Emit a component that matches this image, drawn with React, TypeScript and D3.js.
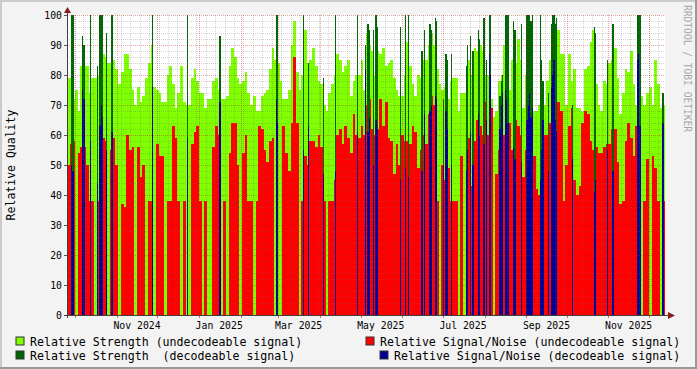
import React from "react";
import * as d3 from "d3";

const START = new Date(2024, 8, 25);
const END = new Date(2025, 11, 13);
const SLOT_DAYS = 2;

// Relative strength, undecodeable signal (one value per 2-day slot)
const strengthUndecodeable = [
  79, 79, 72, 75, 68, 83, 83, 83, 74, 79, 79, 80, 84, 87, 86, 84, 84, 85, 82, 77, 81, 87, 87, 82, 75, 70, 76, 71, 73, 79, 84, 90, 76, 75, 74, 71, 71,
  80, 83, 77, 69, 74, 83, 71, 70, 70, 79, 82, 78, 74, 74, 69, 72, 72, 78, 79, 75, 72, 72, 73, 83, 89, 86, 79, 77, 78, 81, 74, 70, 73, 68, 68, 73, 74,
  75, 82, 89, 85, 84, 78, 72, 72, 75, 90, 98, 81, 75, 80, 95, 84, 85, 89, 83, 78, 77, 70, 68, 74, 77, 80, 87, 85, 81, 83, 85, 73, 78, 80, 80, 85, 75,
  94, 90, 88, 80, 88, 87, 89, 83, 84, 85, 79, 75, 73, 73, 80, 91, 83, 77, 73, 80, 79, 85, 85, 90, 94, 90, 82, 77, 75, 76, 72, 78, 79, 79, 68, 74, 74,
  83, 85, 80, 89, 88, 90, 88, 80, 80, 72, 66, 68, 78, 80, 90, 97, 75, 85, 84, 92, 85, 69, 80, 85, 90, 68, 68, 70, 75, 70, 78, 85, 90, 92, 95, 87, 87,
  70, 87, 78, 82, 69, 69, 68, 82, 83, 91, 95, 77, 70, 68, 78, 77, 84, 85, 89, 79, 67, 74, 82, 81, 88, 77, 70, 80, 73, 70, 74, 76, 70, 85, 77, 69, 70,
];

// Relative signal/noise, undecodeable signal (one value per 2-day slot)
const snrUndecodeable = [
  50, 57, 58, 0, 54, 56, 56, 50, 38, 38, 0, 38, 38, 59, 58, 0, 55, 59, 50, 0, 37, 36, 60, 55, 56, 0, 56, 46, 50, 0, 38, 38, 0, 57, 53, 53, 0,
  38, 38, 63, 59, 38, 0, 38, 0, 0, 57, 61, 63, 38, 0, 38, 0, 0, 56, 63, 60, 0, 38, 0, 54, 64, 64, 50, 0, 54, 60, 38, 38, 0, 38, 63, 62, 55,
  51, 58, 59, 0, 0, 0, 63, 54, 48, 64, 86, 64, 0, 38, 53, 50, 58, 58, 56, 60, 56, 38, 0, 38, 38, 45, 60, 62, 57, 63, 59, 54, 67, 60, 59, 63, 60,
  70, 72, 62, 60, 62, 72, 63, 71, 59, 58, 47, 57, 50, 60, 58, 58, 57, 63, 61, 49, 55, 60, 57, 67, 73, 70, 38, 0, 50, 45, 49, 38, 38, 38, 0, 53, 0,
  60, 59, 43, 58, 65, 63, 60, 71, 60, 69, 0, 47, 55, 58, 60, 64, 64, 55, 65, 63, 60, 46, 55, 60, 71, 53, 42, 40, 44, 60, 60, 64, 65, 69, 71, 68, 38,
  50, 63, 69, 45, 40, 43, 64, 68, 67, 58, 55, 56, 54, 54, 56, 57, 57, 62, 62, 51, 37, 38, 58, 64, 59, 53, 63, 60, 0, 38, 52, 0, 53, 49, 38, 0, 38,
];

// Decodeable signal days (days after START) with their values
const decodeableDays = [
  3, 4, 11, 12, 17, 22, 24, 25, 26, 29,
  33, 63, 89, 113, 155, 156, 175, 179, 190, 199,
  215, 221, 223, 224, 227, 229, 230, 247, 251, 253,
  263, 265, 269, 270, 273, 274, 279, 281, 282, 285,
  296, 297, 299, 301, 305, 306, 309, 311, 313, 314,
  321, 322, 323, 325, 326, 327, 331, 332, 337, 341,
  342, 343, 344, 345, 351, 352, 353, 357, 359, 360,
  361, 362, 363, 375, 391, 392, 401, 405, 423, 424,
  425, 442,
];
const strengthDecodeable = [
  100, 100, 93, 90, 100, 83, 100, 100, 100, 94,
  100, 100, 100, 93, 100, 100, 100, 84, 79, 100,
  100, 90, 97, 95, 95, 100, 96, 96, 100, 100,
  88, 95, 97, 95, 99, 98, 72, 87, 85, 87,
  83, 90, 93, 88, 95, 92, 99, 85, 100, 100,
  73, 78, 80, 100, 100, 100, 98, 95, 97, 100,
  100, 100, 98, 100, 100, 85, 78, 74, 97, 100,
  100, 97, 99, 70, 96, 94, 85, 97, 100, 100,
  100, 74,
];
const snrDecodeable = [
  50, 48, 75, 72, 58, 44, 63, 70, 66, 55,
  61, 76, 59, 71, 72, 64, 55, 63, 47, 48,
  61, 82, 61, 66, 50, 65, 62, 45, 49, 46,
  48, 67, 68, 70, 73, 72, 50, 68, 62, 50,
  48, 55, 61, 50, 67, 60, 57, 65, 87, 80,
  62, 70, 74, 75, 72, 64, 56, 52, 51, 65,
  70, 74, 66, 69, 45, 55, 65, 48, 76, 80,
  85, 65, 61, 52, 41, 45, 55, 48, 85, 87,
  63, 64,
];

const yTicks = [0, 10, 20, 30, 40, 50, 60, 70, 80, 90, 100];

const C_LG = "#7FFF00";
const C_DG = "#006600";
const C_RED = "#FF0000";
const C_BLUE = "#000099";
const MONO = "'DejaVu Sans Mono', monospace";

export default function App() {
  const W = 697;
  const H = 369;
  const L = 67;
  const R = 665;
  const T = 15;
  const B = 315;
  const x = d3.scaleTime().domain([START, END]).range([L, R]);
  const y = d3.scaleLinear().domain([0, 100]).range([B, T]);
  const dayDate = (d: number) => d3.timeDay.offset(START, d);
  const px = (d: number) => Math.round(x(dayDate(d)));

  const slots = strengthUndecodeable.map((s, i) => ({
    x0: px(i * SLOT_DAYS),
    x1: px((i + 1) * SLOT_DAYS),
    s,
    n: snrUndecodeable[i],
  }));
  const events = decodeableDays.map((d, i) => {
    const x0 = px(d);
    const x1 = px(d + 1);
    return { x0, w: Math.max(1, x1 - x0), s: strengthDecodeable[i], n: snrDecodeable[i] };
  });

  const minorY = d3.range(0, 101, 2).filter((v) => v % 10 !== 0);
  const weeks = d3.timeMonday.range(START, END);
  const months = d3.timeMonth.range(d3.timeDay.offset(START, 1), END);
  const labelMonths = months.filter((m) => m.getMonth() % 2 === 0);
  const fmt = d3.timeFormat("%b %Y");

  const bar = (x0: number, w: number, v: number, fill: string, key: string) => {
    if (!v) return null;
    const yy = Math.round(y(v));
    return <rect key={key} x={x0} y={yy} width={w} height={B - yy} fill={fill} />;
  };

  return (
    <svg
      width={W}
      height={H}
      style={{ position: "absolute", left: 0, top: 0, display: "block" }}
      xmlns="http://www.w3.org/2000/svg"
    >
      <rect x={0} y={0} width={W} height={H} fill="#F3F3F3" />
      <rect x={0} y={0} width={W} height={2} fill="#CBCBCB" />
      <rect x={0} y={0} width={2} height={H} fill="#CBCBCB" />
      <rect x={W - 2} y={0} width={2} height={H} fill="#999999" />
      <rect x={0} y={H - 2} width={W} height={2} fill="#999999" />
      <rect x={L} y={T} width={R - L} height={B - T} fill="#FFFFFF" />

      <g shapeRendering="crispEdges">
        {slots.map((sl, i) => bar(sl.x0, sl.x1 - sl.x0, sl.s, C_LG, "lg" + i))}
        {slots.map((sl, i) => bar(sl.x0, sl.x1 - sl.x0, sl.n, C_RED, "rd" + i))}
        {events.map((e, i) => bar(e.x0, e.w, e.s, C_DG, "dg" + i))}
        {events.map((e, i) => bar(e.x0, e.w, e.n, C_BLUE, "bl" + i))}
      </g>

      <g shapeRendering="crispEdges" strokeDasharray="1,1">
        {minorY.map((v) => (
          <line key={"hy" + v} x1={L} x2={R} y1={y(v) + 0.5} y2={y(v) + 0.5} stroke="rgba(100,100,100,0.28)" />
        ))}
        {weeks.map((w, i) => (
          <line key={"wk" + i} x1={Math.round(x(w)) + 0.5} x2={Math.round(x(w)) + 0.5} y1={T} y2={B} stroke="rgba(100,100,100,0.28)" />
        ))}
        {yTicks.map((v) => (
          <line key={"my" + v} x1={L} x2={R} y1={y(v) + 0.5} y2={y(v) + 0.5} stroke="rgba(190,20,20,0.38)" />
        ))}
        {months.map((m, i) => (
          <line key={"mm" + i} x1={Math.round(x(m)) + 0.5} x2={Math.round(x(m)) + 0.5} y1={T} y2={B} stroke="rgba(190,20,20,0.38)" />
        ))}
      </g>

      <g shapeRendering="crispEdges">
        {yTicks.map((v) => (
          <line key={"yt" + v} x1={L - 3} x2={L} y1={y(v) + 0.5} y2={y(v) + 0.5} stroke="#555" />
        ))}
        {months.map((m, i) => (
          <line key={"xt" + i} x1={Math.round(x(m)) + 0.5} x2={Math.round(x(m)) + 0.5} y1={B} y2={B + 3} stroke="rgba(190,20,20,0.6)" />
        ))}
        <line x1={L + 0.5} x2={L + 0.5} y1={B + 3} y2={10} stroke="#404040" />
        <line x1={L - 3} x2={670} y1={B + 0.5} y2={B + 0.5} stroke="#404040" />
      </g>
      <polygon points={`${L - 3},${13} ${L + 4},${13} ${L + 0.5},${7}`} fill="#8B1A1A" />
      <polygon points={`${668},${B - 3} ${668},${B + 4} ${675},${B + 0.5}`} fill="#8B1A1A" />

      <g fontFamily={MONO} fontSize={9.8} fill="#000">
        {yTicks.map((v) => (
          <text key={"yl" + v} x={62} y={y(v) + 3.5} textAnchor="end">
            {v}
          </text>
        ))}
        {labelMonths.map((m, i) => (
          <text key={"xl" + i} x={x(d3.timeDay.offset(m, 15))} y={328.5} textAnchor="middle">
            {fmt(m)}
          </text>
        ))}
      </g>

      <text
        fontFamily={MONO}
        fontSize={11.5}
        textAnchor="middle"
        transform={`translate(15,165) rotate(-90)`}
      >
        Relative Quality
      </text>

      <text
        fontFamily={MONO}
        fontSize={9.6}
        fill="#A8A8A8"
        transform={`translate(684,5) rotate(90)`}
      >
        RRDTOOL / TOBI OETIKER
      </text>

      <g fontFamily={MONO} fontSize={11.6} fill="#000">
        <rect x={16} y={337} width={8} height={8} fill={C_LG} stroke="#333" />
        <text x={30} y={345.5} xmlSpace="preserve">Relative Strength (undecodeable signal)</text>
        <rect x={366} y={337} width={8} height={8} fill={C_RED} stroke="#333" />
        <text x={380} y={345.5} xmlSpace="preserve">Relative Signal/Noise (undecodeable signal)</text>
        <rect x={16} y={351} width={8} height={8} fill={C_DG} stroke="#333" />
        <text x={30} y={359.5} xmlSpace="preserve">Relative Strength  (decodeable signal)</text>
        <rect x={380} y={351} width={8} height={8} fill={C_BLUE} stroke="#333" />
        <text x={394} y={359.5} xmlSpace="preserve">Relative Signal/Noise (decodeable signal)</text>
      </g>
    </svg>
  );
}
